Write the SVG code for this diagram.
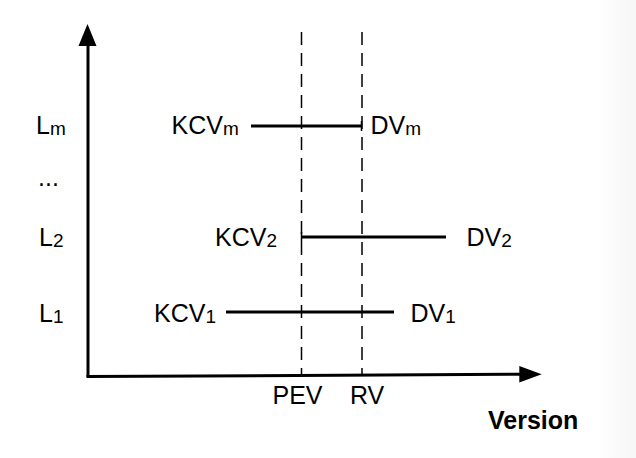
<svg xmlns="http://www.w3.org/2000/svg" width="636" height="458" viewBox="0 0 636 458">
<defs>
<linearGradient id="edge" x1="0" y1="0" x2="1" y2="0">
<stop offset="0" stop-color="#ffffff"/>
<stop offset="1" stop-color="#f6f6f6"/>
</linearGradient>
<style>
.t{font-family:"Liberation Sans",Arial,sans-serif;font-size:25px;fill:#000}
.s{font-size:19px}
.b{font-weight:bold}
.ax{stroke:#000;stroke-width:3;fill:none}
.rg{stroke:#000;stroke-width:3;fill:none}
.dash{stroke:#000;stroke-width:1.5;stroke-dasharray:13 8;fill:none}
.tick{stroke:#000;stroke-width:1.5}
</style>
</defs>
<rect width="636" height="458" fill="#fff"/>
<rect x="596" y="0" width="40" height="458" fill="url(#edge)"/>
<g id="connectors">
<line class="ax" x1="88" y1="377" x2="88" y2="44"/>
<polygon points="87.5,24 78.5,46 96.5,46" fill="#000"/>
<line class="ax" x1="86.5" y1="376.5" x2="522" y2="374.3"/>
<polygon points="541.7,374.3 519.3,366 519.3,382.5" fill="#000"/>
<line class="dash" x1="301.5" y1="32" x2="301.5" y2="375"/>
<line class="dash" x1="362" y1="32" x2="362" y2="375"/>
</g>
<g id="range-m">
<line class="rg" x1="251" y1="126" x2="361" y2="126"/>
<line class="tick" x1="361.5" y1="121" x2="361.5" y2="131"/>
</g>
<g id="range-2">
<line class="rg" x1="301" y1="237" x2="446" y2="237"/>
<line class="tick" x1="301.5" y1="232" x2="301.5" y2="242"/>
</g>
<g id="range-1">
<line class="rg" x1="226" y1="312" x2="394" y2="312"/>
</g>
<g id="label-Lm"><text class="t" x="36" y="134">L<tspan class="s" dy="1">m</tspan></text></g>
<g id="label-dots"><text class="t" x="38" y="186">...</text></g>
<g id="label-L2"><text class="t" x="39" y="246">L<tspan class="s" dy="1">2</tspan></text></g>
<g id="label-L1"><text class="t" x="39" y="322">L<tspan class="s" dy="1">1</tspan></text></g>
<g id="kcvm"><text class="t" x="171.5" y="134">KCV<tspan class="s" dy="1">m</tspan></text></g>
<g id="dvm"><text class="t" x="370.5" y="134">DV<tspan class="s" dy="1">m</tspan></text></g>
<g id="kcv2"><text class="t" x="215" y="246">KCV<tspan class="s" dy="1">2</tspan></text></g>
<g id="dv2"><text class="t" x="466.5" y="246">DV<tspan class="s" dy="1">2</tspan></text></g>
<g id="kcv1"><text class="t" x="154" y="322">KCV<tspan class="s" dy="1">1</tspan></text></g>
<g id="dv1"><text class="t" x="410.5" y="322">DV<tspan class="s" dy="1">1</tspan></text></g>
<g id="pev"><text class="t" x="272.5" y="404">PEV</text></g>
<g id="rv"><text class="t" x="350" y="404">RV</text></g>
<g id="version"><text class="t b" x="488" y="429">Version</text></g>
</svg>
